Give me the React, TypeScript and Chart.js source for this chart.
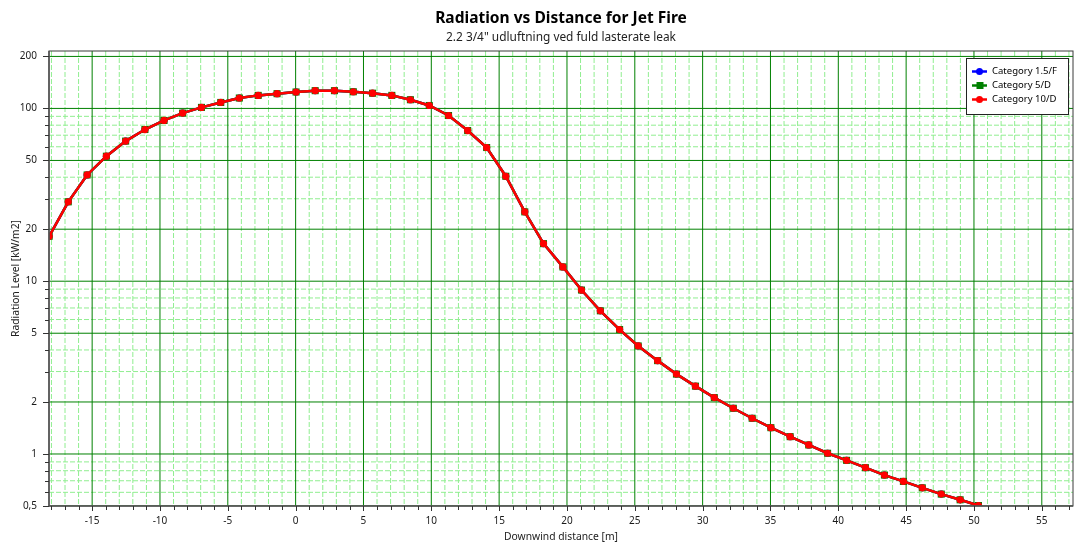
import React, { useEffect, useRef } from 'react';
import { Chart, registerables } from 'chart.js';

Chart.register(...registerables);

const FONT = '"Noto Sans", "Open Sans", sans-serif';

// ---- Data ----
const distances = [
  -18.17, -16.76, -15.37, -13.95, -12.53, -11.11, -9.7, -8.33, -6.94, -5.52,
  -4.15, -2.76, -1.37, 0.03, 1.44, 2.86, 4.25, 5.67, 7.09, 8.46,
  9.85, 11.27, 12.68, 14.08, 15.49, 16.89, 18.27, 19.7, 21.07, 22.46,
  23.88, 25.25, 26.68, 28.07, 29.47, 30.86, 32.26, 33.65, 35.03, 36.45,
  37.82, 39.21, 40.61, 42.0, 43.4, 44.8, 46.19, 47.59, 48.98, 50.33,
];

const cat15F = [
  18.2, 28.8, 41.2, 52.9, 64.7, 75.5, 85.2, 94.0, 101.4, 108.3,
  114.9, 119.0, 121.7, 124.5, 126.7, 126.7, 124.9, 122.5, 119.0, 112.3,
  104.0, 91.0, 74.5, 59.4, 40.5, 25.2, 16.5, 12.1, 8.89, 6.74,
  5.25, 4.22, 3.47, 2.9, 2.47, 2.12, 1.84, 1.61, 1.42, 1.26,
  1.128, 1.01, 0.919, 0.833, 0.755, 0.694, 0.637, 0.586, 0.543, 0.503,
];
const cat5D = cat15F.slice();
const cat10D = cat15F.slice();

const seriesNames = ['Category 1.5/F', 'Category 5/D', 'Category 10/D'];
const seriesColors = ['#0000ff', '#008000', '#ff0000'];

const xTickValues = [-15, -10, -5, 0, 5, 10, 15, 20, 25, 30, 35, 40, 45, 50, 55];
const yMajorTicks = [0.5, 1, 2, 5, 10, 20, 50, 100, 200];
const yMinorTicks = [0.6, 0.7, 0.8, 0.9, 3, 4, 6, 7, 8, 9, 30, 40, 60, 70, 80, 90];

const TITLE = 'Radiation vs Distance for Jet Fire';
const SUBTITLE = '2.2 3/4" udluftning ved fuld lasterate leak';
const X_TITLE = 'Downwind distance [m]';
const Y_TITLE = 'Radiation Level [kW/m2]';

function fitFont(ctx: CanvasRenderingContext2D, text: string, weight: string, target: number) {
  ctx.font = `${weight} 20px ${FONT}`;
  const w = ctx.measureText(text).width;
  const size = (20 * target) / w;
  return `${weight} ${size}px ${FONT}`;
}

const paperPlugin = {
  id: 'paperGrid',
  beforeDraw(chart: any) {
    const { ctx, chartArea: a, scales } = chart;
    const xs = scales.x;
    const ys = scales.y;
    ctx.save();
    ctx.fillStyle = '#ffffff';
    ctx.fillRect(0, 0, chart.width, chart.height);
    ctx.beginPath();
    ctx.rect(a.left, a.top, a.right - a.left, a.bottom - a.top);
    ctx.clip();
    const vline = (p: number) => {
      ctx.beginPath();
      ctx.moveTo(p, a.top);
      ctx.lineTo(p, a.bottom);
      ctx.stroke();
    };
    const hline = (p: number) => {
      ctx.beginPath();
      ctx.moveTo(a.left, p);
      ctx.lineTo(a.right, p);
      ctx.stroke();
    };
    // minor grid
    ctx.strokeStyle = '#90ee90';
    ctx.lineWidth = 1;
    ctx.setLineDash([5, 2]);
    for (let v = Math.ceil(xs.min); v <= xs.max; v++) {
      if (v % 5 !== 0) vline(xs.getPixelForValue(v));
    }
    for (const v of yMinorTicks) hline(ys.getPixelForValue(v));
    // major grid
    ctx.setLineDash([]);
    ctx.strokeStyle = '#008000';
    for (const v of xTickValues) vline(xs.getPixelForValue(v));
    for (const v of yMajorTicks) hline(ys.getPixelForValue(v));
    ctx.restore();
  },
  afterDraw(chart: any) {
    const { ctx, chartArea: a, scales } = chart;
    const xs = scales.x;
    const ys = scales.y;
    ctx.save();
    // frame
    ctx.strokeStyle = '#3a3a3a';
    ctx.lineWidth = 1;
    ctx.strokeRect(a.left, a.top, a.right - a.left, a.bottom - a.top);
    ctx.strokeStyle = '#555555';
    ctx.lineWidth = 1.6;
    ctx.beginPath();
    ctx.moveTo(a.left, a.top);
    ctx.lineTo(a.left, a.bottom);
    ctx.lineTo(a.right, a.bottom);
    ctx.stroke();
    // tick marks
    ctx.strokeStyle = '#333333';
    ctx.lineWidth = 1;
    for (let v = Math.ceil(xs.min); v <= xs.max; v++) {
      const p = Math.round(xs.getPixelForValue(v)) + 0.5;
      const len = v % 5 === 0 ? 5 : 4;
      ctx.beginPath();
      ctx.moveTo(p, a.bottom);
      ctx.lineTo(p, a.bottom + len);
      ctx.stroke();
    }
    for (const v of yMajorTicks.concat(yMinorTicks)) {
      const p = Math.round(ys.getPixelForValue(v)) + 0.5;
      const len = yMajorTicks.includes(v) ? 6 : 4;
      ctx.beginPath();
      ctx.moveTo(a.left - len, p);
      ctx.lineTo(a.left, p);
      ctx.stroke();
    }
    // titles
    const cx = (a.left + a.right) / 2;
    ctx.fillStyle = '#000000';
    ctx.textAlign = 'center';
    ctx.textBaseline = 'alphabetic';
    ctx.font = fitFont(ctx, TITLE, 'bold', 252);
    ctx.fillText(TITLE, cx, 23);
    ctx.fillStyle = '#222222';
    ctx.font = fitFont(ctx, SUBTITLE, 'normal', 230);
    ctx.fillText(SUBTITLE, cx, 41);
    // axis titles
    ctx.font = fitFont(ctx, X_TITLE, 'normal', 114);
    ctx.textBaseline = 'middle';
    ctx.fillText(X_TITLE, cx, 537);
    ctx.save();
    ctx.translate(16, (a.top + a.bottom) / 2);
    ctx.rotate(-Math.PI / 2);
    ctx.font = fitFont(ctx, Y_TITLE, 'normal', 117);
    ctx.fillText(Y_TITLE, 0, 0);
    ctx.restore();
    // legend
    const lx = 966, ly = 58, lw = 102, lh = 56;
    ctx.fillStyle = '#ffffff';
    ctx.fillRect(lx, ly, lw, lh);
    ctx.strokeStyle = '#222222';
    ctx.lineWidth = 1;
    ctx.strokeRect(lx + 0.5, ly + 0.5, lw, lh);
    const legendFont = fitFont(ctx, seriesNames[0], 'normal', 65);
    ctx.textAlign = 'left';
    ctx.textBaseline = 'middle';
    seriesNames.forEach((name, i) => {
      const y = 71.5 + i * 14;
      const col = seriesColors[i];
      ctx.strokeStyle = col;
      ctx.lineWidth = 2.5;
      ctx.beginPath();
      ctx.moveTo(972, y);
      ctx.lineTo(987, y);
      ctx.stroke();
      ctx.fillStyle = col;
      ctx.beginPath();
      if (i === 1) ctx.rect(976.5, y - 3.5, 7, 7);
      else ctx.arc(979.5, y, 3.5, 0, Math.PI * 2);
      ctx.fill();
      ctx.fillStyle = '#000000';
      ctx.font = legendFont;
      ctx.fillText(name, 992, y);
    });
    ctx.restore();
  },
};

function makeDataset(label: string, values: number[], color: string, style: string, radius: number, order: number) {
  return {
    label,
    data: distances.map((x, i) => ({ x, y: values[i] })),
    borderColor: color,
    backgroundColor: color,
    borderWidth: 2.5,
    pointStyle: style,
    pointRadius: radius,
    pointBorderWidth: 0,
    pointBackgroundColor: color,
    tension: 0,
    clip: 0,
    order,
  };
}

export default function App() {
  const ref = useRef<HTMLCanvasElement>(null);
  useEffect(() => {
    const chart = new Chart(ref.current as HTMLCanvasElement, {
      type: 'line',
      data: {
        datasets: [
          makeDataset(seriesNames[0], cat15F, seriesColors[0], 'circle', 3.5, 3),
          makeDataset(seriesNames[1], cat5D, seriesColors[1], 'rect', 5, 2),
          makeDataset(seriesNames[2], cat10D, seriesColors[2], 'circle', 3.6, 1),
        ] as any,
      },
      options: {
        responsive: false,
        animation: false,
        parsing: true,
        layout: { padding: { top: 51, right: 11, left: 0, bottom: 0 } },
        plugins: {
          legend: { display: false },
          title: { display: false },
          tooltip: { enabled: false },
        },
        scales: {
          x: {
            type: 'linear',
            min: -18.18,
            max: 57.3,
            grid: { display: false, drawTicks: false },
            border: { display: false },
            afterBuildTicks: (s: any) => {
              s.ticks = xTickValues.map((v) => ({ value: v }));
            },
            afterFit: (s: any) => {
              s.height = 40;
            },
            ticks: {
              autoSkip: false,
              maxRotation: 0,
              padding: 9,
              color: '#1a1a1a',
              font: { family: FONT, size: 10 },
              callback: (v: any) => String(v),
            },
          },
          y: {
            type: 'logarithmic',
            min: 0.5,
            max: 215,
            grid: { display: false, drawTicks: false },
            border: { display: false },
            afterBuildTicks: (s: any) => {
              s.ticks = yMajorTicks.map((v) => ({ value: v }));
            },
            afterFit: (s: any) => {
              s.width = 49;
            },
            ticks: {
              autoSkip: false,
              padding: 12,
              color: '#1a1a1a',
              font: { family: FONT, size: 10 },
              callback: (v: any) => String(v).replace('.', ','),
            },
          },
        },
      } as any,
      plugins: [paperPlugin],
    });
    return () => chart.destroy();
  }, []);
  return (
    <div style={{ position: 'absolute', left: 0, top: 0, width: 1084, height: 546, background: '#fff' }}>
      <canvas ref={ref} width={1084} height={546} style={{ display: 'block' }} />
    </div>
  );
}
